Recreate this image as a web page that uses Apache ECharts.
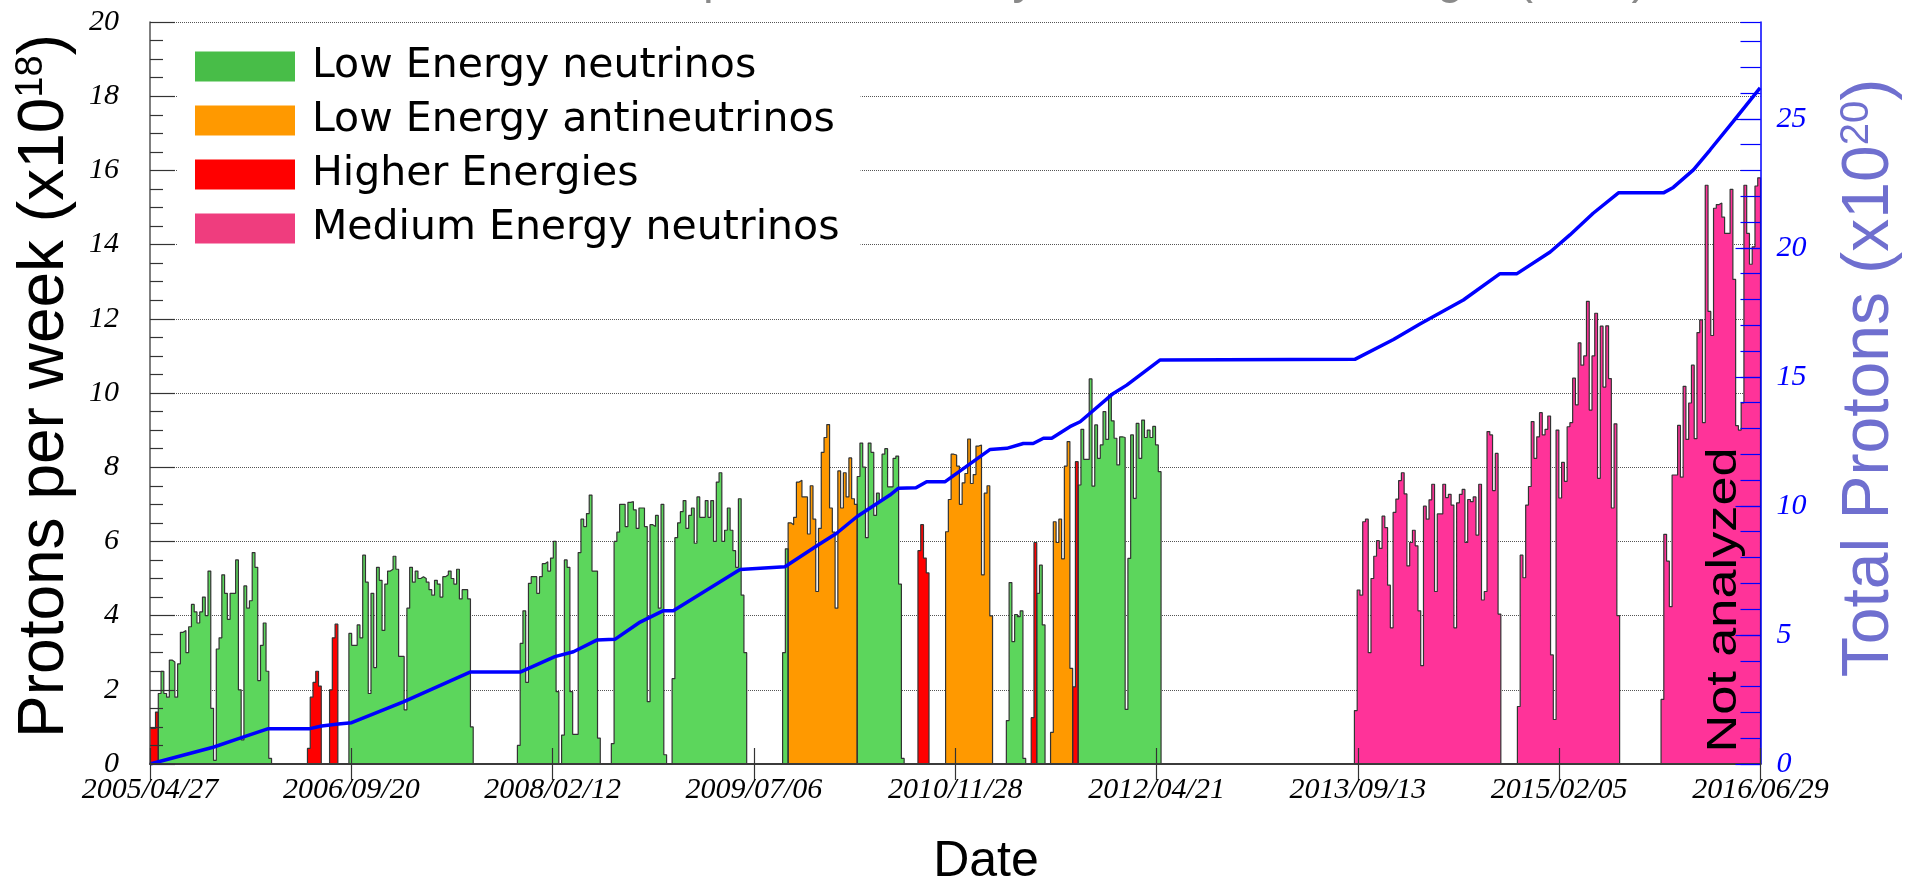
<!DOCTYPE html>
<html>
<head>
<meta charset="utf-8">
<script src="https://cdn.jsdelivr.net/npm/echarts@6/dist/echarts.min.js"></script>
<style>
  html, body { margin: 0; padding: 0; background: #fff; }
  #chart { width: 1919px; height: 884px; }
</style>
</head>
<body>
<div id="chart"></div>
<script>
// Weekly histogram of delivered protons (units of 1e18 per week), bins start 2005/04/27.
const WEEKS = 583;
const DAYS = 4081;
const dateTicks = ['2005/04/27', '2006/09/20', '2008/02/12', '2009/07/06', '2010/11/28',
                   '2012/04/21', '2013/09/13', '2015/02/05', '2016/06/29'];

// Low Energy neutrinos: week index where each run begins, and the weekly values of the run
const lowNuStarts = [3, 72, 133, 167, 229, 256, 310, 321, 336];
const lowNuRun1 = [1.9, 2.5, 1.9, 1.8, 2.8, 2.75, 1.8, 2.7, 3.55, 3.6, 3.0, 3.7, 4.3, 4.1, 3.8, 4.1, 4.5, 4.0, 5.2, 1.5,
                   0.1, 3.1, 3.4, 5.1, 4.6, 3.9, 4.6, 4.6, 5.5, 2.0, 0.65, 4.8, 4.2, 4.4, 5.7, 5.3, 2.25, 3.2, 3.8, 2.5, 0.15];
const lowNuRun2 = [3.52, 3.2, 3.2, 3.75, 3.4, 5.63, 4.9, 1.9, 4.6, 2.6, 5.3, 4.95, 3.6, 4.85, 5.2, 5.25, 5.6, 5.25, 2.9, 2.9,
                   1.46, 4.2, 5.3, 4.9, 5.2, 5.0, 5.05, 5.0, 4.9, 4.7, 4.55, 4.95, 4.85, 4.5, 5.05, 5.1, 5.2, 5.0, 4.85, 5.25,
                   4.45, 4.7, 4.7, 4.45, 1.0];
const lowNuRun3 = [0.5, 3.25, 4.13, 2.2, 4.87, 5.05, 5.05, 4.6, 5.05, 5.4, 5.45, 5.2, 5.55, 6.0, 1.95, 0, 0.78, 5.5, 5.3, 1.95,
                   0.8, 0.8, 5.7, 6.6, 6.4, 6.75, 7.25, 5.2, 5.2, 0.7];
const lowNuRun4 = [0.55, 6.0, 6.25, 7.0, 7.0, 6.4, 7.05, 7.07, 6.85, 6.35, 6.9, 6.9, 6.4, 1.68, 6.45, 6.4, 6.7, 4.2, 7.0, 0.25,
                   0, 0, 2.3, 6.1, 6.5, 6.8, 7.1, 6.35, 6.7, 6.9, 5.95, 7.2, 6.65, 6.65, 7.1, 6.65, 7.1, 6.0, 7.6, 7.85,
                   6.0, 6.3, 6.9, 6.3, 5.75, 5.3, 7.15, 4.55, 3.0];
const lowNuRun5 = [3.0, 5.8];
const lowNuRun6 = [7.75, 8.65, 8.0, 6.1, 8.65, 8.4, 6.7, 7.3, 7.1, 8.35, 8.5, 7.47, 7.47, 8.24, 8.3, 4.85, 0.15];
const lowNuRun7 = [1.17, 4.89, 3.3, 4.03, 3.97, 4.13, 0.15];
const lowNuRun8 = [4.6, 5.36, 3.75];
const lowNuRun9 = [7.52, 9.02, 8.21, 8.21, 10.38, 7.49, 9.14, 8.24, 8.6, 9.5, 8.75, 9.95, 9.25, 8.78, 8.06, 8.82, 8.8, 1.47, 5.54, 8.87,
                   7.16, 9.18, 8.24, 9.27, 8.8, 9.0, 8.8, 9.1, 8.6, 7.88];
const lowNuRuns = [lowNuRun1, lowNuRun2, lowNuRun3, lowNuRun4, lowNuRun5, lowNuRun6, lowNuRun7, lowNuRun8, lowNuRun9];

// Low Energy antineutrinos
const antiNuStarts = [231, 288, 326];
const antiNuRun1 = [6.5, 6.45, 6.65, 7.6, 7.65, 7.2, 7.2, 6.2, 7.5, 6.6, 4.65, 6.35, 8.4, 8.8, 9.15, 6.9, 6.25, 4.2, 7.9, 6.9,
                    7.85, 7.2, 8.25, 7.15, 7.0];
const antiNuRun2 = [6.26, 7.13, 8.35, 8.33, 8.03, 7.0, 7.58, 7.83, 8.76, 7.56, 7.8, 8.57, 8.6, 5.1, 7.3, 7.5, 3.99];
const antiNuRun3 = [0.85, 6.53, 5.97, 6.6, 5.53, 8.03, 8.69, 2.58];
const antiNuRuns = [antiNuRun1, antiNuRun2, antiNuRun3];

// Higher Energies
const higherStarts = [0, 57, 65, 278, 319, 334];
const higherRuns = [[0.96, 0.96, 1.4], [0.42, 1.8, 2.2, 2.5, 2.1], [2.0, 3.4, 3.77],
                    [5.75, 6.45, 5.55, 5.15], [1.25, 5.97], [2.08, 8.15]];

// Medium Energy neutrinos
const mediumStarts = [436, 495, 547];
const mediumRun1 = [1.44, 4.69, 4.55, 6.53, 6.6, 3.0, 5.0, 5.6, 6.02, 5.81, 6.68, 6.37, 4.82, 3.67, 6.78, 7.14, 7.64, 7.85, 7.28, 5.34,
                    5.97, 6.3, 5.88, 4.13, 2.65, 6.95, 6.6, 7.12, 7.54, 4.65, 6.74, 6.74, 7.54, 7.18, 7.27, 6.98, 3.67, 7.04, 7.27, 7.4,
                    5.97, 7.13, 7.07, 7.2, 6.17, 7.54, 4.42, 4.65, 8.96, 8.87, 7.37, 8.37, 4.04];
const mediumRun2 = [1.55, 5.63, 5.02, 6.98, 7.48, 9.23, 8.24, 8.82, 9.47, 8.87, 9.02, 9.38, 2.94, 1.2, 9.0, 7.17, 8.13, 7.62, 9.09, 9.2,
                    10.4, 9.68, 11.35, 10.75, 11.0, 12.47, 9.54, 11.0, 12.15, 7.7, 11.8, 10.16, 11.81, 10.39, 6.9, 9.17, 4.0];
const mediumRun3 = [1.74, 6.19, 5.47, 4.24, 7.79, 7.79, 9.13, 7.73, 10.18, 8.75, 9.73, 10.75, 8.77, 11.63, 11.97, 9.2, 15.6, 12.2, 11.55, 14.98,
                    15.08, 15.12, 14.74, 14.3, 14.3, 15.49, 13.06, 9.12, 9.0, 9.73, 15.6, 14.3, 13.47, 13.94, 15.58, 15.8];
const mediumRuns = [mediumRun1, mediumRun2, mediumRun3];

// Integrated protons (units of 1e20): [days since 2005/04/27, total]
const totalDays = [0, 160, 228, 300, 405, 435, 477, 511, 642, 811, 938, 1026, 1073, 1132, 1178, 1242, 1301, 1326, 1495, 1609,
                   1689, 1740, 1791, 1875, 1896, 1941, 1968, 2015, 2129, 2171, 2213, 2238, 2264, 2285, 2331, 2357, 2441, 2475, 2559,
                   3053, 3151, 3218, 3328, 3421, 3464, 3548, 3598, 3657, 3721, 3835, 3860, 3911, 3953, 4012, 4080];
const totalPot = [0, 0.65, 1.0, 1.37, 1.37, 1.47, 1.55, 1.6, 2.41, 3.56, 3.56, 4.16, 4.35, 4.8, 4.83, 5.5, 5.94, 5.94, 7.54, 7.64,
                  8.45, 8.94, 9.58, 10.42, 10.68, 10.7, 10.94, 10.94, 12.19, 12.23, 12.42, 12.42, 12.62, 12.62, 13.07, 13.26, 14.36, 14.68, 15.65,
                  15.68, 16.45, 17.05, 17.98, 19.0, 19.0, 19.84, 20.5, 21.34, 22.13, 22.13, 22.34, 23.02, 23.79, 24.9, 26.2];

// Expand runs into a full weekly histogram, as step points at each bin's left edge (days)
function histogram(starts, runs) {
  const v = new Array(WEEKS).fill(0);
  starts.forEach((s, k) => runs[k].forEach((x, j) => { v[s + j] = x; }));
  const pts = v.map((x, i) => [7 * i, x]);
  pts.push([DAYS, 0]);
  return pts;
}

const chart = echarts.init(document.getElementById('chart'), null, { renderer: 'canvas' });

const serifLabel = { fontFamily: 'Liberation Serif', fontStyle: 'italic', fontSize: 30 };
const outline = '#333';

function histSeries(name, fill, starts, runs) {
  return {
    type: 'line', name: name, step: 'end', xAxisIndex: 0, yAxisIndex: 0,
    data: histogram(starts, runs),
    symbol: 'none', showSymbol: false, silent: true, z: 2,
    lineStyle: { color: outline, width: 1.2 },
    itemStyle: { color: fill },
    areaStyle: { color: fill, opacity: 1 }
  };
}

const option = {
  animation: false,
  backgroundColor: '#ffffff',
  grid: { left: 150, top: 22, width: 1610.5, height: 742, containLabel: false },
  legend: {
    orient: 'vertical', left: 178, top: 40,
    backgroundColor: '#ffffff',
    padding: [6, 21, 14, 17],
    itemWidth: 100, itemHeight: 30, itemGap: 13,
    selectedMode: false,
    icon: 'rect',
    itemStyle: { borderWidth: 0 },
    textStyle: { fontFamily: 'DejaVu Sans', fontSize: 41, color: '#000', padding: [0, 0, 0, 12] },
    data: [
      { name: 'Low Energy neutrinos', itemStyle: { color: '#48bd48' } },
      { name: 'Low Energy antineutrinos', itemStyle: { color: '#ff9900' } },
      { name: 'Higher Energies', itemStyle: { color: '#ff0000' } },
      { name: 'Medium Energy neutrinos', itemStyle: { color: '#ef3d7e' } }
    ]
  },
  xAxis: [
    {
      type: 'value', position: 'bottom', min: 0, max: DAYS, interval: DAYS / 8, z: 10,
      axisLine: { show: true, lineStyle: { color: '#555', width: 2 } },
      axisTick: { show: true, inside: true, length: 16, lineStyle: { color: '#333', width: 1.2 } },
      axisLabel: Object.assign({ color: '#000', margin: 11,
        formatter: v => dateTicks[Math.round(v / (DAYS / 8))] || '' }, serifLabel),
      splitLine: { show: false }
    },
    {
      type: 'value', position: 'top', min: 0, max: DAYS, interval: DAYS / 8, z: 10,
      axisLine: { show: true, lineStyle: { color: '#333', width: 1.5 } },
      axisTick: { show: true, inside: true, length: 16, lineStyle: { color: '#333', width: 1.2 } },
      axisLabel: { show: false },
      splitLine: { show: false }
    }
  ],
  yAxis: [
    {
      type: 'value', position: 'left', min: 0, max: 20, interval: 2, z: 0,
      axisLine: { show: false }, axisTick: { show: false }, axisLabel: { show: false },
      splitLine: { show: true, lineStyle: { color: '#555', type: 'dotted', width: 1 } }
    },
    {
      type: 'value', position: 'left', min: 0, max: 20, interval: 2, z: 10,
      axisLine: { show: true, lineStyle: { color: '#555', width: 1.5 } },
      axisTick: { show: true, inside: true, length: 25, lineStyle: { color: '#333', width: 1.2 } },
      minorTick: { show: true, splitNumber: 4, length: 13, lineStyle: { color: '#333', width: 1.2 } },
      axisLabel: Object.assign({ color: '#000', margin: 31 }, serifLabel),
      splitLine: { show: false }
    },
    {
      type: 'value', position: 'right', min: 0, max: 28.75, interval: 5, z: 10,
      axisLine: { show: true, lineStyle: { color: '#0000ff', width: 1.5 } },
      axisTick: { show: true, inside: true, length: 25, lineStyle: { color: '#0000ff', width: 1.2 } },
      axisLabel: Object.assign({ color: '#0000ff', margin: 16, showMaxLabel: false }, serifLabel),
      splitLine: { show: false }
    },
    {
      type: 'value', position: 'right', min: 0, max: 28.75, interval: 1, z: 10,
      axisLine: { show: false },
      axisTick: { show: true, inside: true, length: 20, lineStyle: { color: '#0000ff', width: 1.2 } },
      axisLabel: { show: false },
      splitLine: { show: false }
    }
  ],
  series: [
    histSeries('Low Energy neutrinos', '#5cd65c', lowNuStarts, lowNuRuns),
    histSeries('Low Energy antineutrinos', '#ff9900', antiNuStarts, antiNuRuns),
    histSeries('Higher Energies', '#ff0000', higherStarts, higherRuns),
    histSeries('Medium Energy neutrinos', '#ff3399', mediumStarts, mediumRuns),
    {
      type: 'line', name: 'Total', xAxisIndex: 0, yAxisIndex: 2, z: 5, silent: true,
      data: totalDays.map((d, i) => [d, totalPot[i]]),
      symbol: 'none', showSymbol: false,
      lineStyle: { color: '#0000ff', width: 3.5 }
    }
  ],
  graphic: [
    {
      type: 'text', x: 487, y: 4, z: 100, silent: true,
      style: { text: 'Delivered protons, weekly and total to the target (POT)', fill: '#8a8a8a',
               fontFamily: 'Liberation Sans', fontSize: 48, textAlign: 'left', textVerticalAlign: 'bottom' }
    },
    {
      type: 'text', x: 45, y: 386, rotation: Math.PI / 2, z: 100, silent: true,
      style: {
        text: '{m|Protons per week (x10}{s|18}{m|)}',
        textAlign: 'center', textVerticalAlign: 'middle',
        rich: {
          m: { fontFamily: 'Liberation Sans', fontSize: 64, fill: '#000' },
          s: { fontFamily: 'Liberation Sans', fontSize: 38, fill: '#000', verticalAlign: 'top' }
        }
      }
    },
    {
      type: 'text', x: 1870, y: 378, rotation: Math.PI / 2, z: 100, silent: true,
      style: {
        text: '{m|Total Protons (x10}{s|20}{m|)}',
        textAlign: 'center', textVerticalAlign: 'middle',
        rich: {
          m: { fontFamily: 'Liberation Sans', fontSize: 66, fill: '#6f6fcf' },
          s: { fontFamily: 'Liberation Sans', fontSize: 40, fill: '#6f6fcf', verticalAlign: 'top' }
        }
      }
    },
    {
      type: 'text', x: 986, y: 862, z: 100, silent: true,
      style: { text: 'Date', fill: '#000', fontFamily: 'Liberation Sans', fontSize: 50,
               textAlign: 'center', textVerticalAlign: 'middle' }
    },
    {
      type: 'text', x: 1724, y: 600, rotation: Math.PI / 2, scaleX: 1.245, z: 100, silent: true,
      style: { text: 'Not analyzed', fill: '#000', fontFamily: 'Liberation Sans', fontSize: 42,
               textAlign: 'center', textVerticalAlign: 'middle' }
    }
  ]
};

chart.setOption(option);
</script>
</body>
</html>
